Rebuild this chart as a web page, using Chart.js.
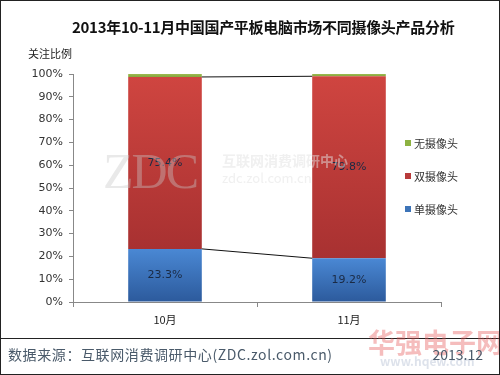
<!DOCTYPE html>
<html>
<head>
<meta charset="utf-8">
<script src="https://cdn.jsdelivr.net/npm/chart.js@4.4.1/dist/chart.umd.min.js"></script>
<style>
  body { margin: 0; background: #fff; }
  #wrap { position: relative; width: 500px; height: 375px; overflow: hidden; font-family: "Noto Sans CJK SC", "DejaVu Sans", sans-serif; }
  #border { position: absolute; left: 0; top: 0; width: 498px; height: 373px; border: 1px solid #222; pointer-events: none; }
  canvas { position: absolute; left: 0; top: 0; }
  .txt { position: absolute; white-space: nowrap; }
  #title { left: 72px; top: 16px; font-size: 15px; font-weight: bold; color: #111; letter-spacing: -0.3px; }
  #ylab { left: 28px; top: 45px; font-size: 11px; color: #222; }
  #legend { position: absolute; left: 405px; top: 135px; font-size: 11px; color: #333; }
  #legend div { height: 33px; display: flex; align-items: flex-start; }
  #legend span.sw { display: inline-block; width: 6px; height: 6px; margin: 5px 3px 0 0; }
  #sep { position: absolute; left: 0; top: 338px; width: 500px; height: 1px; background: #222; }
  #src { left: 8px; top: 344px; font-size: 14px; color: #4a5a6a; letter-spacing: 0.6px; }
  #date { right: 17px; top: 344px; font-size: 14px; color: #4a5a6a; }
  #wm1 { left: 103px; top: 142px; font-family: "Liberation Serif", serif; font-size: 50px; color: rgba(200,200,200,0.4); letter-spacing: -2px; }
  #wm2 { left: 222px; top: 150px; font-size: 14px; color: rgba(225,225,225,0.5); font-weight: bold; }
  #wm3 { left: 222px; top: 168px; font-size: 13px; color: rgba(225,225,225,0.5); }
  #wm4 { left: 368px; top: 322px; font-size: 27px; font-weight: bold; color: rgba(230,90,90,0.4); }
  #wm5 { left: 380px; top: 352px; font-size: 12px; font-weight: bold; color: rgba(180,190,210,0.45); }
</style>
</head>
<body>
<div id="wrap">
  <canvas id="c" width="500" height="375"></canvas>
  <div class="txt" id="wm1">ZDC</div>
  <div class="txt" id="wm2">互联网消费调研中心</div>
  <div class="txt" id="wm3">zdc.zol.com.cn</div>
  <div class="txt" id="title">2013年10-11月中国国产平板电脑市场不同摄像头产品分析</div>
  <div class="txt" id="ylab">关注比例</div>
  <div id="legend"></div>
  <div id="sep"></div>
  <div class="txt" id="wm4">华强电子网</div>
  <div class="txt" id="wm5">www.hqew.com</div>
  <div class="txt" id="src">数据来源：互联网消费调研中心(ZDC.zol.com.cn)</div>
  <div class="txt" id="date">2013.12</div>
  <div id="border"></div>
</div>
<script>
// 数据
const meses = ["10月", "11月"];
const series = ["单摄像头", "双摄像头", "无摄像头"];
const single = [23.3, 19.2];
const dual = [75.4, 79.8];
const none = [1.3, 1.0];
const yTicks = [0, 10, 20, 30, 40, 50, 60, 70, 80, 90, 100];

const colores = [
  { top: "#4a88d4", bottom: "#2c5a9c", legend: "#3d74b8" },
  { top: "#cf4540", bottom: "#a83131", legend: "#b83b3b" },
  { top: "#9cbb50", bottom: "#86a63e", legend: "#8db241" },
];

// gradiente por segmento
function gradiente(idx) {
  return function (ctx) {
    const chart = ctx.chart;
    if (!chart.chartArea || ctx.type !== "data") return colores[idx].top;
    const y = chart.scales.y;
    const ds = chart.data.datasets;
    let base = 0;
    for (let k = 0; k < idx; k++) base += ds[k].data[ctx.dataIndex];
    const top = base + ds[idx].data[ctx.dataIndex];
    const y0 = y.getPixelForValue(top);
    const y1 = y.getPixelForValue(base);
    if (!isFinite(y0) || !isFinite(y1) || y0 === y1) return colores[idx].top;
    const g = chart.ctx.createLinearGradient(0, y0, 0, y1);
    g.addColorStop(0, colores[idx].top);
    g.addColorStop(1, colores[idx].bottom);
    return g;
  };
}

// lineas de serie entre barras
const lineasSerie = {
  id: "lineasSerie",
  afterDatasetsDraw(chart) {
    const ctx = chart.ctx;
    const y = chart.scales.y;
    const ds = chart.data.datasets;
    const m0 = chart.getDatasetMeta(0).data;
    ctx.save();
    ctx.strokeStyle = "#111";
    ctx.lineWidth = 1;
    let acc = [0, 0];
    for (let i = 0; i < ds.length - 1; i++) {
      acc = acc.map((v, j) => v + ds[i].data[j]);
      const a = m0[0], b = m0[1];
      ctx.beginPath();
      ctx.moveTo(a.x + a.width / 2, y.getPixelForValue(acc[0]));
      ctx.lineTo(b.x - b.width / 2, y.getPixelForValue(acc[1]));
      ctx.stroke();
    }
    ctx.restore();
  },
};

// etiquetas de datos
const etiquetas = {
  id: "etiquetas",
  afterDatasetsDraw(chart) {
    const ctx = chart.ctx;
    ctx.save();
    ctx.font = "11px 'DejaVu Sans', sans-serif";
    ctx.fillStyle = "#1a2a44";
    ctx.textAlign = "center";
    ctx.textBaseline = "middle";
    [0, 1].forEach((d) => {
      chart.getDatasetMeta(d).data.forEach((el, j) => {
        const v = chart.data.datasets[d].data[j];
        ctx.fillText(v.toFixed(1) + "%", el.x, (el.y + el.base) / 2);
      });
    });
    ctx.restore();
  },
};

const datos = [single, dual, none];
new Chart(document.getElementById("c"), {
  type: "bar",
  data: {
    labels: meses,
    datasets: series.map((s, i) => ({
      label: s,
      data: datos[i],
      backgroundColor: gradiente(i),
      borderWidth: 0,
      categoryPercentage: 0.8,
      barPercentage: 0.5,
    })),
  },
  options: {
    responsive: false,
    animation: false,
    layout: { padding: { top: 74, right: 59, bottom: 0, left: 0 } },
    plugins: { legend: { display: false }, tooltip: { enabled: false } },
    scales: {
      x: {
        stacked: true,
        offset: true,
        grid: { offset: true, drawOnChartArea: false, color: "#888", tickLength: 5 },
        border: { color: "#888" },
        ticks: { color: "#222", font: { size: 11, family: "'Noto Sans CJK SC'" }, padding: 6 },
        afterFit: (s) => { s.height = 73; },
      },
      y: {
        stacked: true,
        min: 0,
        max: 100,
        afterBuildTicks: (s) => { s.ticks = yTicks.map((v) => ({ value: v })); },
        grid: { drawOnChartArea: false, color: "#888", tickLength: 4 },
        border: { color: "#888" },
        ticks: {
          color: "#333",
          font: { size: 11, family: "'DejaVu Sans'" },
          padding: 6,
          callback: (v) => v + "%",
        },
        afterFit: (s) => { s.width = 73; },
      },
    },
  },
  plugins: [lineasSerie, etiquetas],
});

// leyenda
const leg = document.getElementById("legend");
[2, 1, 0].forEach((i) => {
  const d = document.createElement("div");
  d.innerHTML = `<span class="sw" style="background:${colores[i].legend}"></span>${series[i]}`;
  leg.appendChild(d);
});
</script>
</body>
</html>
